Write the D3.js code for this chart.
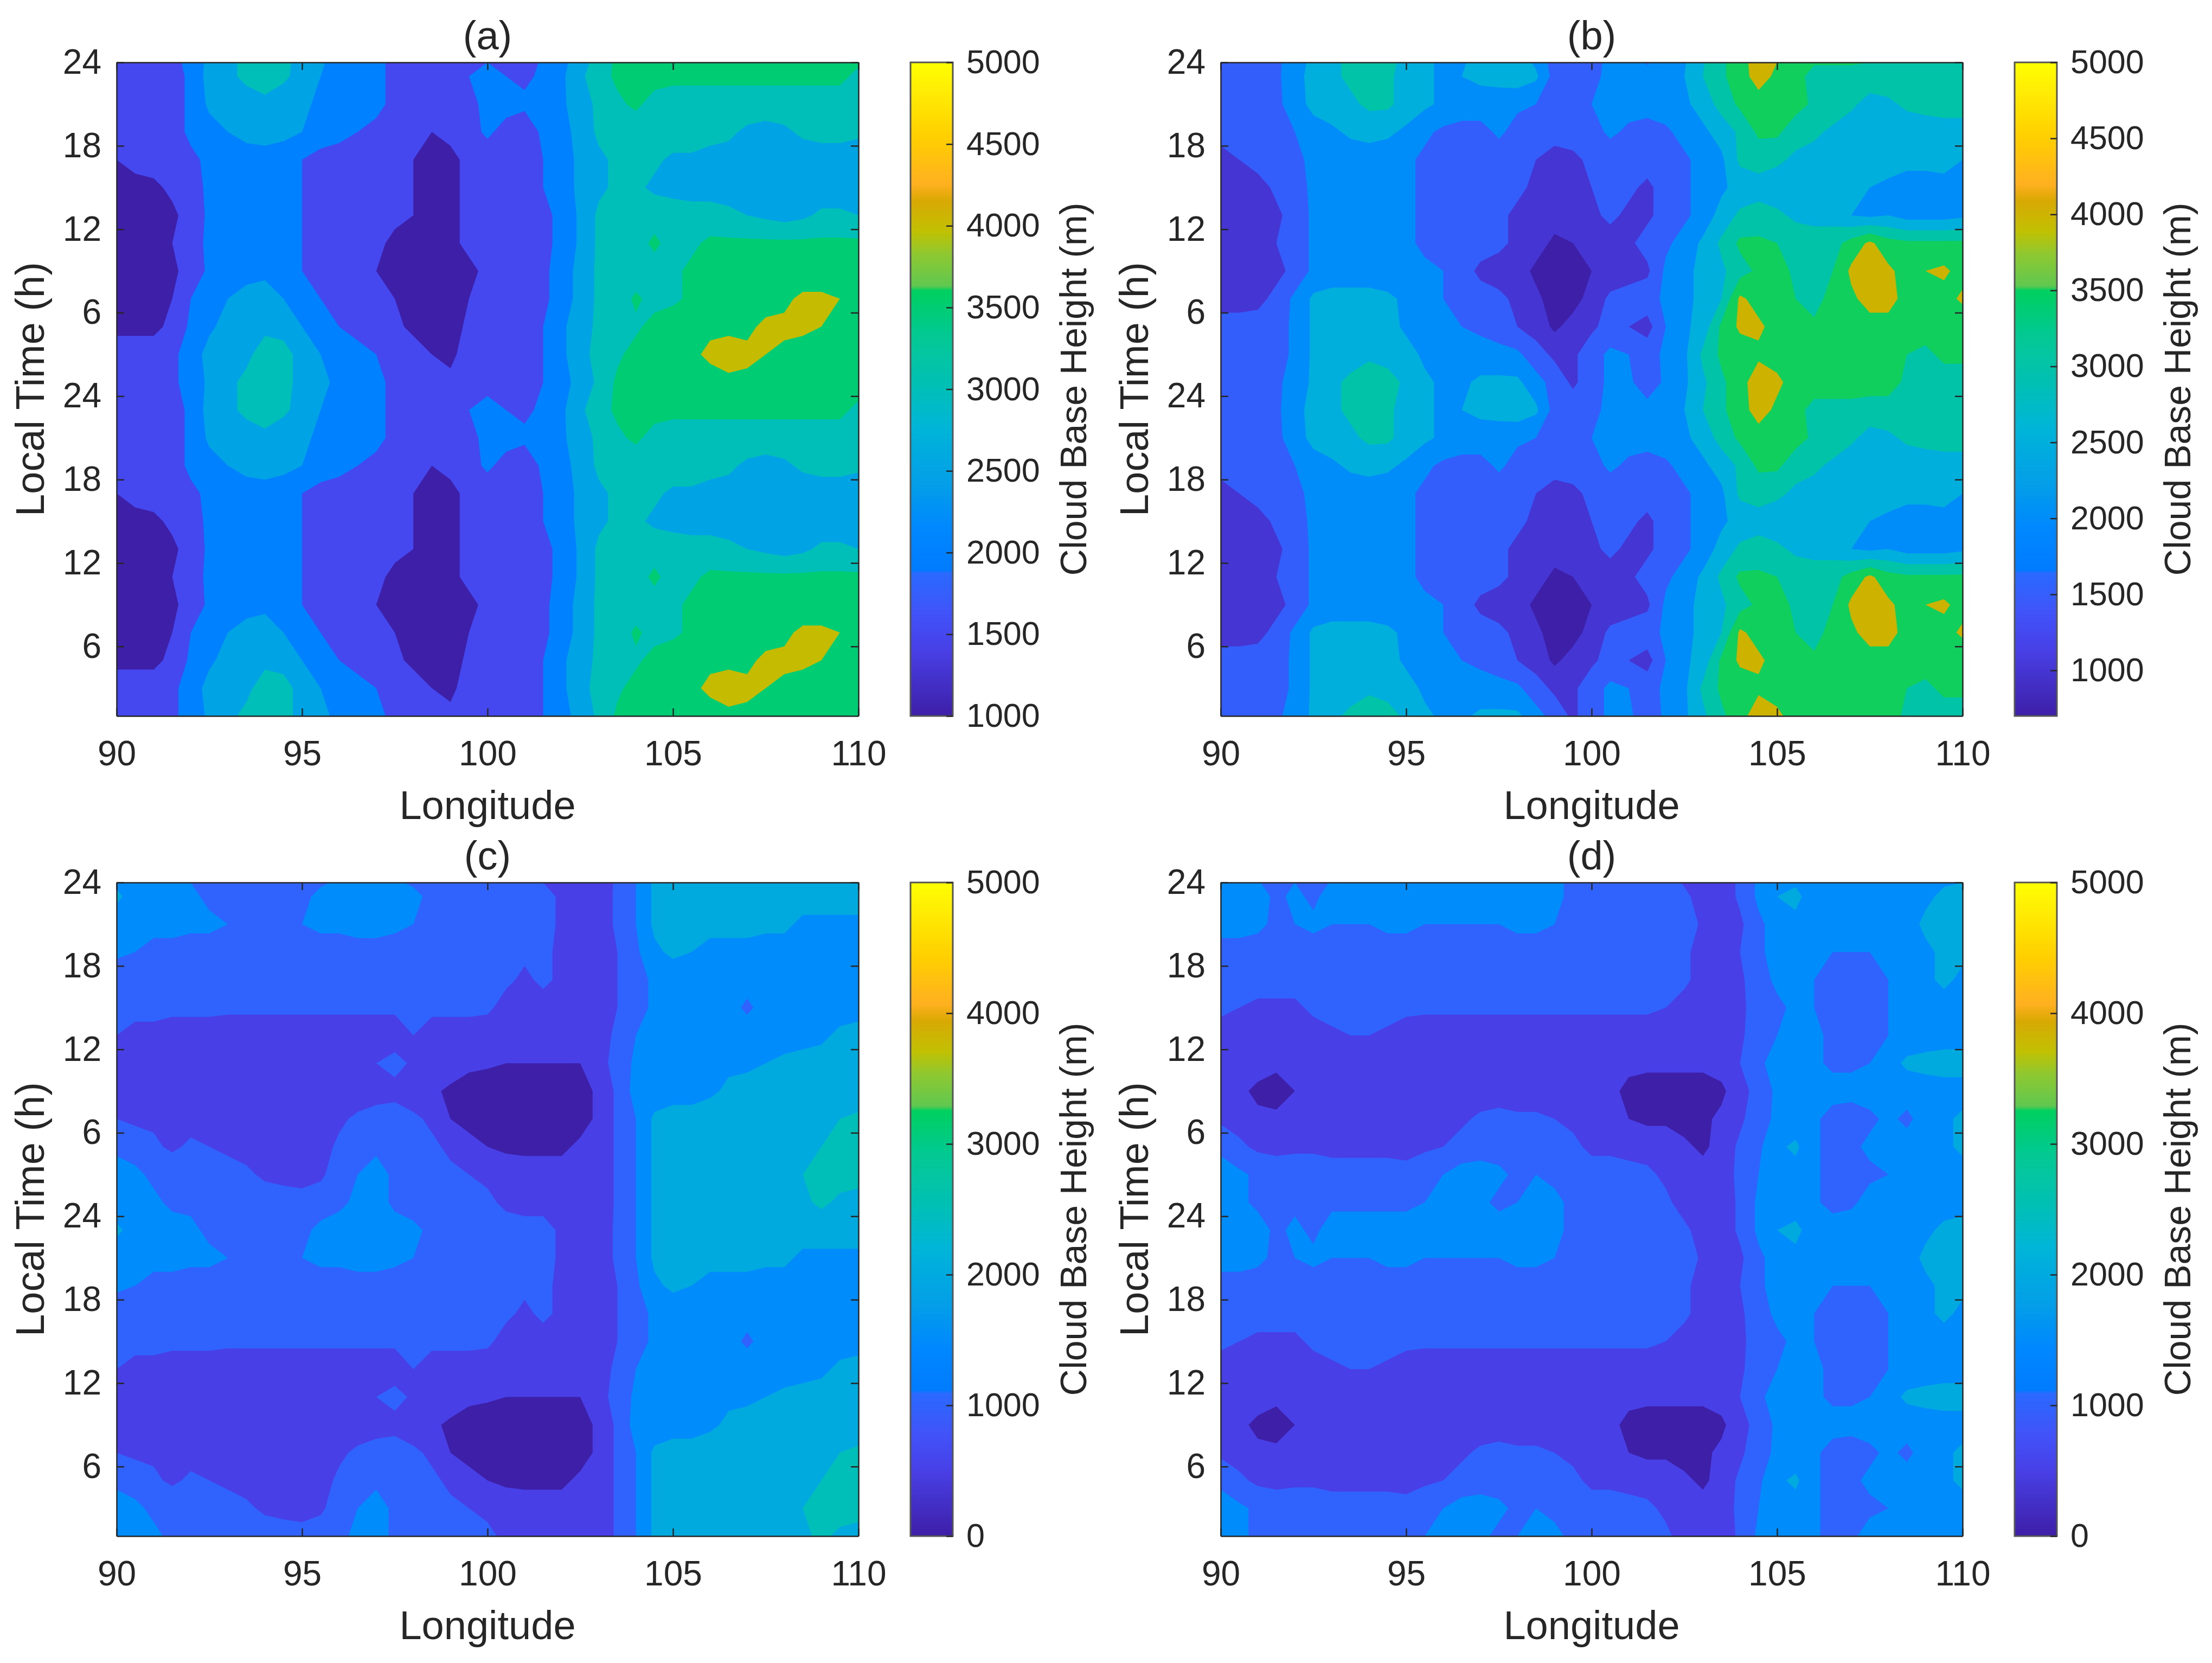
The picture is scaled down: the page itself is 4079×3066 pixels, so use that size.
<!DOCTYPE html>
<html>
<head>
<meta charset="utf-8">
<style>
	body { margin: 0; background: #fff; }
	text { font-family: "Liberation Sans", sans-serif; fill: #262626; }
</style>
<title>Cloud Base Height</title>
</head>
<body>
<script src="https://cdn.jsdelivr.net/npm/d3@7"></script>
<script>

// longitudes 90..110 every 0.5 deg, hours 1,3,..23 of the mean day
var lons = d3.range(90, 110.5, 0.5);
var hours = d3.range(1, 24, 2);

// cloud base height in hundreds of metres, one row per hour
var cloudA = [
	[17,17,17,19,22,26,29,31,32,31, 29,26,24,23,21,19,17,16,16,17, 19,18,17,20,23,27,31,36,36,37, 37,37,38,39,39,38,37,37,37,37, 37],
	[17,17,17,19,22,27,28,29,32,32, 28,25,23,22,20,18,17,15,14,17, 19,17,17,20,24,28,32,34,37,38, 39,39,41,42,41,40,39,38,37,37, 37],
	[14,14,14,16,21,24,27,29,29,28, 25,22,20,18,17,16,14,13,13,16, 17,17,17,20,24,28,31,32,34,37, 38,38,39,39,39,41,41,41,40,38, 37],
	[14,14,14,15,20,22,25,27,27,25, 22,20,18,17,16,15,14,13,13,15, 17,17,17,19,22,27,31,32,36,33, 34,36,37,37,37,38,39,41,41,40, 38],
	[13,13,13,14,17,21,22,23,24,22, 20,18,17,16,15,14,14,13,13,14, 16,17,17,19,22,27,31,32,32,33, 34,36,37,37,37,37,37,37,37,37, 36],
	[13,13,13,15,18,21,22,23,23,22, 20,18,17,16,16,14,14,14,14,16, 17,17,17,19,21,26,31,32,33,36, 33,34,36,36,36,36,36,36,36,36, 36],
	[13,13,13,14,17,21,22,22,22,21, 20,18,17,16,16,16,15,14,14,16, 17,17,17,19,21,26,31,31,32,33, 33,32,32,31,30,29,28,29,31,31, 30],
	[14,14,14,16,18,21,22,22,22,21, 20,18,17,17,16,16,15,14,14,16, 17,17,17,20,23,26,29,31,31,29, 28,28,28,28,28,28,27,27,27,27, 27],
	[15,16,17,17,19,21,22,22,22,21, 20,18,17,17,17,16,15,14,14,16, 17,17,17,20,23,26,29,31,31,31, 29,29,28,28,27,27,27,27,27,27, 27],
	[17,17,17,18,21,23,25,27,28,27, 25,23,22,20,19,18,17,15,16,18, 21,18,17,21,23,27,31,32,32,33, 33,33,32,31,29,28,29,31,32,32, 31],
	[17,17,17,18,21,26,27,28,29,27, 26,24,22,21,21,19,18,17,17,19, 21,22,21,22,24,28,31,34,36,33, 33,33,33,33,33,33,33,33,33,33, 33],
	[17,17,17,18,21,27,29,31,32,31, 28,25,23,22,21,19,17,17,17,20, 21,20,19,21,24,29,33,36,37,37, 36,36,36,36,36,36,36,36,36,36, 34]
];

var cloudB = [
	[17,17,17,19,22,26,29,31,33,32, 29,26,24,24,26,26,26,22,18,14, 18,21,21,17,21,24,29,34,38,43, 41,38,38,38,38,37,37,34,33,33, 33],
	[17,17,17,18,21,26,28,28,29,28, 27,24,23,22,22,22,21,17,14,14, 18,21,20,18,21,24,31,36,37,39, 38,38,38,38,38,38,37,35,34,36, 36],
	[18,18,18,18,21,26,29,28,28,27, 24,23,21,20,19,17,15,13,9,12, 14,17,15,13,20,24,27,36,41,41, 38,37,36,37,37,38,38,37,37,36, 36],
	[12,12,13,17,21,26,27,27,27,26, 24,22,20,18,17,16,14,11,8,8, 12,16,17,18,21,24,26,30,41,38, 37,35,33,37,39,42,42,38,37,38, 41],
	[12,12,12,13,17,21,22,22,22,22, 22,21,20,17,14,13,12,9,8,8, 10,12,13,14,21,24,26,29,33,36, 37,34,33,35,41,42,41,38,40,41, 38],
	[12,12,13,15,17,21,22,22,22,22, 21,19,18,18,17,16,14,12,9,10, 12,13,14,17,19,22,26,31,36,36, 35,33,33,33,37,41,37,36,36,36, 36],
	[12,12,12,14,17,21,22,22,22,22, 21,19,18,17,16,16,14,13,12,12, 14,16,14,14,17,19,22,27,31,32, 31,29,28,28,25,24,25,23,23,23, 24],
	[13,13,13,16,18,21,22,22,22,22, 21,19,18,17,17,16,16,14,13,13, 15,16,16,14,17,19,22,24,27,28, 27,26,26,26,26,25,24,22,22,23, 23],
	[13,15,17,18,19,21,22,22,22,22, 21,19,18,17,17,17,16,15,13,14, 16,17,17,17,18,19,22,24,31,32, 31,29,28,28,27,27,27,27,27,27, 25],
	[17,17,17,17,20,22,24,26,27,26, 24,21,19,18,18,21,18,17,17,17, 18,21,19,18,19,22,24,27,31,36, 36,32,31,29,27,27,26,27,27,28, 28],
	[17,17,17,19,22,27,28,29,31,31, 28,26,24,23,23,22,21,20,18,17, 20,22,22,22,23,24,27,32,36,38, 38,37,34,33,31,28,29,31,32,32, 32],
	[17,17,17,19,23,27,29,31,33,31, 28,26,24,25,26,27,28,26,18,18, 19,21,21,22,23,25,30,34,38,42, 39,37,33,33,33,33,33,32,32,33, 34]
];

var cloudC = [
	[17,17,16,14,14,13,13,13,13,13, 13,13,14,16,17,14,13,13,13,12, 11,9,8,8,8,7,6,11,15,21, 22,25,23,22,23,23,23,24,26,24, 23],
	[17,16,14,14,13,13,12,11,9,8, 7,9,13,15,17,14,13,12,11,10, 9,8,7,7,7,7,6,11,15,21, 22,23,24,24,24,24,24,25,26,27, 27],
	[14,13,11,9,11,10,9,8,8,7, 6,8,11,13,14,14,13,11,9,7, 5,4,4,4,4,6,6,11,15,21, 22,22,23,23,23,24,24,24,25,26, 26],
	[10,9,9,8,8,8,7,7,7,7, 7,8,9,11,13,13,11,9,5,3, 3,3,3,3,3,3,6,11,15,21, 22,22,23,23,23,23,23,24,24,25, 26],
	[8,8,8,7,7,7,7,7,7,7, 7,7,7,7,7,8,7,6,4,3, 3,3,3,3,3,3,6,11,17,17, 18,18,19,21,22,22,22,22,22,22, 22],
	[8,8,8,8,7,7,7,7,7,7, 7,7,8,9,10,12,9,8,8,6, 5.5,5,5,5,5,5,8,12,16,16, 17,18,18,19,19,20,21,21,22,22, 23],
	[10,9,9,8,8,8,7,7,7,7, 7,7,7,7,7,7,10,8,8,8, 7,6,7,7,7,7,8,11,15,17, 17,17,18,18,18,18,18,19,19,21, 22],
	[11,11,11,11,11,11,11,11,11,11, 11,11,11,11,11,11,11,11,11,11, 11,8,8,8,8,7,7,10,13,16, 17,17,17,17,14,17,17,17,18,18, 18],
	[12,12,12,12,12,12,12,12,12,12, 12,12,12,12,12,12,12,12,12,12, 12,11,9,11,9,7,7,10,13,16, 17,17,17,17,17,17,17,17,17,17, 17],
	[16,15,14,14,13,13,13,13,13,13, 13,13,13,13,13,13,13,13,13,13, 13,12,11,11,9,7,7,10,14,19, 21,20,19,19,18,18,18,18,18,18, 18],
	[17,17,16,16,16,16,15,14,14,14, 15,16,16,17,17,16,15,14,13,13, 13,13,12,12,9,7,7,11,15,21, 22,21,21,21,22,21,21,19,19,19, 19],
	[21,18,17,17,16,14,14,14,14,14, 14,16,17,17,17,17,16,14,13,13, 13,12,12,12,9,8,7,11,15,21, 22,22,22,22,22,22,22,22,22,22, 22]
];

var cloudD = [
	[17,16,14,14,14,14,14,14,14,14, 14,15,16,17,16,14,15,17,16,14, 13,14,13,12,11,8,7,7,11,16, 17,18,16,13,14,17,17,18,18,18, 18],
	[17,16,14,14,13,13,13,13,13,13, 13,14,15,17,17,16,14,15,14,13, 12,12,12,11,9,7,7,8,11,15, 17,18,16,13,13,14,15,17,18,18, 18],
	[14,11,9,8,9,9,8,8,8,8, 7,9,10,12,13,13,13,13,12,11, 9,9,8,8,8,6,4,7,11,14, 19,21,16,13,14,16,17,17,17,19, 21],
	[9,8,6,6,7,8,8,8,8,8, 8,8,8,9,11,12,11,11,10,9, 8,7,5,4,4,3,4,6,9,13, 16,17,16,13,12,14,16,14,17,19, 21],
	[7,6,4,3,5,7,7,7,7,7, 7,7,7,7,7,7,7,7,7,7, 7,6,4,3,3,3,3,4,8,12, 16,17,17,17,17,17,17,17,17,18, 18],
	[8,8,7,6,7,7,7,7,7,7, 7,7,7,7,7,7,7,7,7,7, 7,7,6,6,6,6,6,7,10,14, 17,17,16,14,14,15,18,21,22,22, 22],
	[8,8,8,8,8,8,9,10,10,9, 8,7,7,7,7,7,7,7,7,7, 7,7,7,7,7,7,7,8,9,13, 15,17,16,14,13,13,15,17,17,18, 18],
	[11,10,9,9,9,11,12,12,12,12, 11,11,11,11,11,11,11,11,11,11, 11,11,11,11,10,8,7,7,9,12, 14,16,15,13,13,14,15,17,17,18, 19],
	[12,12,12,12,12,12,12,12,12,12, 12,12,12,12,12,12,12,12,12,12, 12,12,12,12,12,11,8,7,9,13, 16,17,15,13,13,13,15,17,19,21, 19],
	[13,13,13,13,13,13,13,13,13,13, 13,13,13,13,13,13,13,13,13,13, 13,13,13,13,13,11,8,7,10,14, 17,17,17,15,15,15,16,17,19,21, 21],
	[17,17,16,14,15,16,15,15,15,16, 16,15,15,15,15,15,16,16,15,14, 14,14,14,14,14,13,9,7,9,14, 17,19,18,18,18,18,18,18,21,22, 22],
	[19,19,17,14,16,14,17,17,17,17, 17,17,17,17,17,17,17,17,16,14, 14,14,14,14,13,11,8,7,11,16, 20,21,18,18,18,18,18,18,19,21, 22]
];

var panelTitles = ["(a)", "(b)", "(c)", "(d)"];
var panelData = [cloudA, cloudB, cloudC, cloudD];
var panelLevels = [
	[1000, 1500, 2000, 2500, 3000, 3500, 4000, 4500],
	[700, 1000, 1500, 2000, 2500, 3000, 3500, 4000, 4500],
	[0, 500, 1000, 1500, 2000, 2500, 3000],
	[0, 500, 1000, 1500, 2000, 2500, 3000]
];
var barMin = [1000, 700, 0, 0];
var barTicks = [
	[1000, 1500, 2000, 2500, 3000, 3500, 4000, 4500, 5000],
	[1000, 1500, 2000, 2500, 3000, 3500, 4000, 4500, 5000],
	[0, 1000, 2000, 3000, 4000, 5000],
	[0, 1000, 2000, 3000, 4000, 5000]
];
var lonTicks = [90, 95, 100, 105, 110];
var hourTicks = [6, 12, 18, 24, 30, 36, 42, 48];

// colormap, position along the bar -> colour
var cmapStops = [0, .1, .153, .219, .221, .287, .353, .44, .5, .587, .65, .657, .707, .74, .787, .813, .887, 1];
var cmapColors = ["#3e1fa8", "#4840e6", "#3f50f8", "#2a6bff", "#007bff", "#0088ff", "#009de8", "#00b5d8", "#00bfb8", "#00c98f", "#00d060", "#60c850", "#90c830", "#c0c000", "#d8a800", "#ffb020", "#ffd000", "#ffff00"];
var cmap = d3.scaleLinear().domain(cmapStops).range(cmapColors);

var panelLeft = [215, 2251, 215, 2251];
var panelTop = [115, 115, 1627, 1627];
var plotW = 1368, plotH = 1205;
var barGap = 1464, barW = 78;

var svg = d3.select("body").append("svg")
	.attr("width", 4079)
	.attr("height", 3066);

panelData.forEach(function(rows, p) {
	var g = svg.append("g").attr("transform", "translate(" + panelLeft[p] + "," + panelTop[p] + ")");

	var x = d3.scaleLinear().domain([90, 110]).range([0, plotW]);
	var y = d3.scaleLinear().domain([1, 48]).range([plotH, 0]);

	// two repeats of the mean day plus one closing row
	var allRows = rows.concat(rows).concat([rows[0]]);
	var values = [];
	allRows.forEach(function(r) { r.forEach(function(v) { values.push(v * 100); }); });

	var contours = d3.contours()
		.size([lons.length, allRows.length])
		.thresholds(panelLevels[p])(values);

	var project = d3.geoTransform({
		point: function(px, py) {
			this.stream.point(x(lons[0] + (px - .5) * .5), y(hours[0] + (py - .5) * 2));
		}
	});
	var path = d3.geoPath(project);
	var color = function(v) { return cmap((v - barMin[p]) / (5000 - barMin[p])); };

	g.append("clipPath").attr("id", "clip" + p)
		.append("rect").attr("width", plotW).attr("height", plotH);

	g.append("g").attr("clip-path", "url(#clip" + p + ")")
		.selectAll("path").data(contours).enter().append("path")
		.attr("d", path)
		.attr("fill", function(d) { return color(d.value); });

	// axes on all four sides, ticks pointing in
	var styleAxis = function(a) {
		a.selectAll("path, line").attr("stroke", "#262626").attr("stroke-width", 2.5);
		a.selectAll("text").attr("font-size", 64).attr("font-family", null).attr("fill", "#262626");
	};
	var hourLabel = function(h) { return h > 24 ? h - 24 : h; };
	g.append("g").attr("transform", "translate(0," + plotH + ")")
		.call(d3.axisBottom(x).tickValues(lonTicks).tickSize(-14).tickSizeOuter(0).tickPadding(46))
		.call(styleAxis);
	g.append("g")
		.call(d3.axisLeft(y).tickValues(hourTicks).tickFormat(hourLabel).tickSize(-14).tickSizeOuter(0).tickPadding(28))
		.call(styleAxis);
	g.append("g")
		.call(d3.axisTop(x).tickValues(lonTicks).tickFormat("").tickSize(-14).tickSizeOuter(0))
		.call(styleAxis);
	g.append("g").attr("transform", "translate(" + plotW + ",0)")
		.call(d3.axisRight(y).tickValues(hourTicks).tickFormat("").tickSize(-14).tickSizeOuter(0))
		.call(styleAxis);

	g.append("text").attr("x", plotW / 2).attr("y", -24)
		.attr("text-anchor", "middle").attr("font-size", 74).text(panelTitles[p]);
	g.append("text").attr("x", plotW / 2).attr("y", plotH + 190)
		.attr("text-anchor", "middle").attr("font-size", 74).text("Longitude");
	g.append("text").attr("transform", "translate(" + (81 - 215) + "," + plotH / 2 + ") rotate(-90)")
		.attr("text-anchor", "middle").attr("font-size", 74).text("Local Time (h)");

	// colorbar
	var bar = g.append("g").attr("transform", "translate(" + barGap + ",0)");
	var c = d3.scaleLinear().domain([barMin[p], 5000]).range([plotH, 0]);
	var steps = d3.range(0, 400).map(function(i) { return barMin[p] + (5000 - barMin[p]) * i / 400; });
	var stepH = plotH / 400;
	bar.selectAll("rect").data(steps).enter().append("rect")
		.attr("x", 0).attr("width", barW)
		.attr("y", function(d) { return c(d) - stepH; })
		.attr("height", stepH + .6)
		.attr("fill", color);
	bar.append("rect").attr("width", barW).attr("height", plotH)
		.attr("fill", "none").attr("stroke", "#555").attr("stroke-width", 3);
	bar.append("g").attr("transform", "translate(" + barW + ",0)")
		.call(d3.axisRight(c).tickValues(barTicks[p]).tickFormat(d3.format("d")).tickSize(-12).tickSizeOuter(0).tickPadding(25))
		.call(styleAxis)
		.call(function(a) { a.selectAll("text").attr("font-size", 61); })
		.select(".domain").remove();
	bar.append("text").attr("transform", "translate(324," + plotH / 2 + ") rotate(-90)")
		.attr("text-anchor", "middle").attr("font-size", 68).text("Cloud Base Height (m)");
});

</script>
</body>
</html>
